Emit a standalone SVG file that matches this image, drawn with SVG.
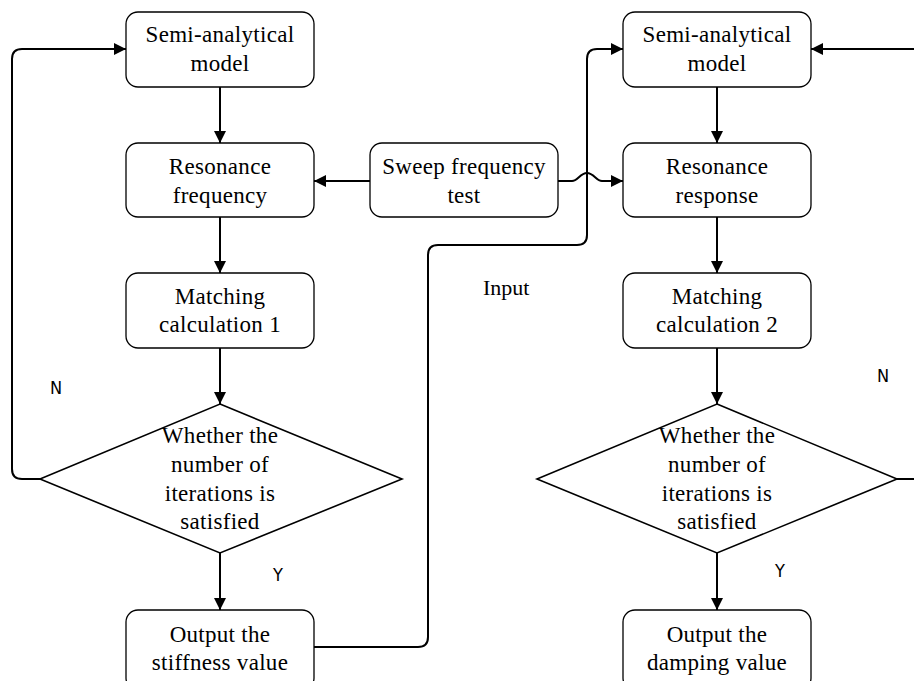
<svg xmlns="http://www.w3.org/2000/svg" width="914" height="681" viewBox="0 0 914 681">
<defs>
<marker id="ah" markerUnits="userSpaceOnUse" markerWidth="14" markerHeight="14" viewBox="0 0 14 14" refX="12" refY="7" orient="auto">
<path d="M0,1 L12,7 L0,13 Z" fill="#000"/>
</marker>
<style>
.box{fill:#fff;stroke:#000;stroke-width:1.3}
.dia{fill:#fff;stroke:#000;stroke-width:1.6}
.t{font-family:"Liberation Serif","Times New Roman",serif;font-size:23px;letter-spacing:0.3px;text-anchor:middle;fill:#000}
.lbl{font-family:"Liberation Serif","Times New Roman",serif;font-size:22px;fill:#000}
.yn{font-family:"DejaVu Sans Condensed","DejaVu Sans",sans-serif;font-size:18px;font-weight:normal;fill:#000;font-stretch:condensed}
.c{fill:none;stroke:#000;stroke-width:2}
</style>
</defs>
<g id="connectors">
<line class="c" x1="220" y1="87" x2="220" y2="143" marker-end="url(#ah)"/>
<line class="c" x1="220" y1="217" x2="220" y2="273" marker-end="url(#ah)"/>
<line class="c" x1="220" y1="348" x2="220" y2="404" marker-end="url(#ah)"/>
<line class="c" x1="220" y1="553" x2="220" y2="610" marker-end="url(#ah)"/>
<path class="c" d="M40,479 H22 Q12,479 12,469 V59 Q12,49 22,49 H126" marker-end="url(#ah)"/>
<line class="c" x1="370" y1="181" x2="314" y2="181" marker-end="url(#ah)"/>
<path class="c" d="M558,181 H572 C578,181 580,173 587,173 C594,173 596,181 602,181 H623" marker-end="url(#ah)"/>
<path class="c" d="M314,647 H418 Q428,647 428,637 V255 Q428,245 438,245 H577 Q587,245 587,235 V59 Q587,49 597,49 H623" marker-end="url(#ah)"/>
<line class="c" x1="717" y1="87" x2="717" y2="143" marker-end="url(#ah)"/>
<line class="c" x1="717" y1="217" x2="717" y2="273" marker-end="url(#ah)"/>
<line class="c" x1="717" y1="348" x2="717" y2="404" marker-end="url(#ah)"/>
<line class="c" x1="717" y1="553" x2="717" y2="610" marker-end="url(#ah)"/>
<line class="c" x1="916" y1="49" x2="811" y2="49" marker-end="url(#ah)"/>
<line class="c" x1="897" y1="479" x2="916" y2="479"/>
<text class="lbl" x="483" y="295">Input</text>
<text class="yn" x="50" y="394">N</text>
<text class="yn" x="273" y="581">Y</text>
<text class="yn" x="877" y="382">N</text>
<text class="yn" x="775" y="577">Y</text>
</g>
<g id="semi1">
<rect class="box" x="126" y="12" width="188" height="75" rx="12"/>
<text class="t" x="220" y="42">Semi-analytical</text>
<text class="t" x="220" y="71">model</text>
</g>
<g id="resfreq">
<rect class="box" x="126" y="143" width="188" height="74" rx="12"/>
<text class="t" x="220" y="174">Resonance</text>
<text class="t" x="220" y="203">frequency</text>
</g>
<g id="match1">
<rect class="box" x="126" y="273" width="188" height="75" rx="12"/>
<text class="t" x="220" y="304">Matching</text>
<text class="t" x="220" y="332">calculation 1</text>
</g>
<g id="dec1">
<polygon class="dia" points="220,404 402,479 220,553 40,479"/>
<text class="t" x="220" y="443">Whether the</text>
<text class="t" x="220" y="472">number of</text>
<text class="t" x="220" y="501">iterations is</text>
<text class="t" x="220" y="529">satisfied</text>
</g>
<g id="out1">
<rect class="box" x="126" y="610" width="188" height="80" rx="12"/>
<text class="t" x="220" y="642">Output the</text>
<text class="t" x="220" y="670">stiffness value</text>
</g>
<g id="sweep">
<rect class="box" x="370" y="143" width="188" height="74" rx="12"/>
<text class="t" x="464" y="174">Sweep frequency</text>
<text class="t" x="464" y="203">test</text>
</g>
<g id="semi2">
<rect class="box" x="623" y="12" width="188" height="75" rx="12"/>
<text class="t" x="717" y="42">Semi-analytical</text>
<text class="t" x="717" y="71">model</text>
</g>
<g id="resresp">
<rect class="box" x="623" y="143" width="188" height="74" rx="12"/>
<text class="t" x="717" y="174">Resonance</text>
<text class="t" x="717" y="203">response</text>
</g>
<g id="match2">
<rect class="box" x="623" y="273" width="188" height="75" rx="12"/>
<text class="t" x="717" y="304">Matching</text>
<text class="t" x="717" y="332">calculation 2</text>
</g>
<g id="dec2">
<polygon class="dia" points="717,404 897,479 717,553 537,479"/>
<text class="t" x="717" y="443">Whether the</text>
<text class="t" x="717" y="472">number of</text>
<text class="t" x="717" y="501">iterations is</text>
<text class="t" x="717" y="529">satisfied</text>
</g>
<g id="out2">
<rect class="box" x="623" y="610" width="188" height="80" rx="12"/>
<text class="t" x="717" y="642">Output the</text>
<text class="t" x="717" y="670">damping value</text>
</g>
</svg>
